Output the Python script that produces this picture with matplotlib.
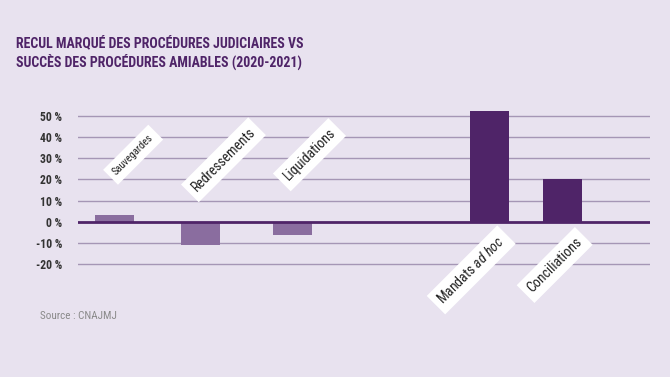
import matplotlib
matplotlib.use("Agg")
import matplotlib.pyplot as plt
from matplotlib import font_manager

# data
categories = ["Sauvegardes", "Redressements", "Liquidations", "Mandats $\\it{ad\\ hoc}$", "Conciliations"]
values = [3, -11, -6, 52, 20]
yticks = [-20, -10, 0, 10, 20, 30, 40, 50]

# layout / style
positions = [0, 1, 2.07, 4.36, 5.21]
bar_colors = ["#8a6d9f", "#8a6d9f", "#8a6d9f", "#4f2468", "#4f2468"]
label_xy = [(0.22, 31.6), (1.27, 29.2), (2.27, 31.6), (4.15, -22.6), (5.12, -20.3)]
label_size = [7.5, 10, 10, 10, 10]

plt.rcParams['font.family'] = ['Roboto Condensed', 'DejaVu Sans']
# italic for "ad hoc": first condensed family that ships an italic face
it_family = None
for fam in ["Roboto Condensed", "Barlow Semi Condensed", "Barlow Condensed", "Archivo Narrow",
            "Fira Sans Condensed", "IBM Plex Sans Condensed", "Roboto"]:
    if any(f.name == fam and f.style == "italic" for f in font_manager.fontManager.ttflist):
        it_family = fam
        break
plt.rcParams['mathtext.fontset'] = 'custom'
plt.rcParams['mathtext.rm'] = 'Roboto Condensed'
plt.rcParams['mathtext.it'] = (it_family or 'DejaVu Sans') + ':italic'

bg = "#e8e2ef"
fig = plt.figure(figsize=(6.7, 3.77), dpi=100, facecolor=bg)
ax = fig.add_axes([0.116, 0.2706, 0.854, 0.4509])
ax.set_facecolor(bg)

for t in yticks:
    if t == 0:
        continue
    ax.axhline(t, color="#a596b5", lw=1, zorder=1)
ax.bar(positions, values, width=0.45, color=bar_colors, zorder=2)
ax.axhline(0, color="#4f2468", lw=2, zorder=3)

for name, (x, y), s in zip(categories, label_xy, label_size):
    ax.text(x, y, name, rotation=45, ha="center", va="center", rotation_mode="anchor",
            fontsize=s, color="#222222", zorder=4,
            bbox=dict(facecolor="white", edgecolor="none", pad=4))

ax.set_xlim(-0.424, 6.227)
ax.set_ylim(-25, 55)
ax.set_yticks(yticks)
ax.set_yticklabels([f"{t} %" for t in yticks], fontweight="bold", fontsize=8.5, color="#333333")
ax.set_xticks([])
ax.tick_params(axis="y", length=0, pad=11)
for sp in ax.spines.values():
    sp.set_visible(False)

fig.text(0.024, 0.822, "RECUL MARQUÉ DES PROCÉDURES JUDICIAIRES VS\nSUCCÈS DES PROCÉDURES AMIABLES (2020-2021)",
         fontsize=10, fontweight="bold", color="#4f2468", linespacing=1.3)
fig.text(0.06, 0.155, "Source : CNAJMJ", fontsize=8, color="#8a8a8a")

fig.savefig("out.png", dpi=100, facecolor=bg)
